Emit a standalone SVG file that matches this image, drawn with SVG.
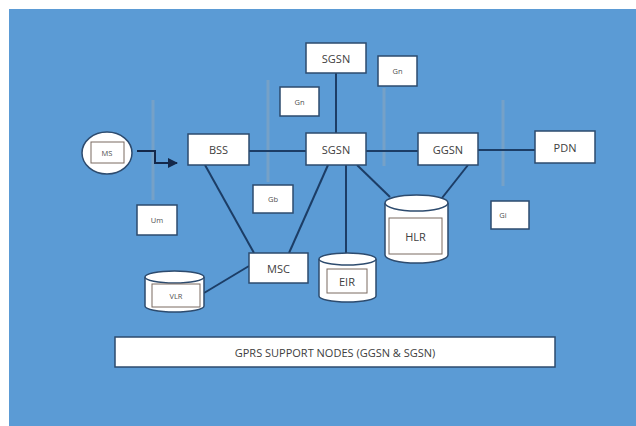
<svg xmlns="http://www.w3.org/2000/svg" width="636" height="426" viewBox="0 0 636 426">
<defs>
<style>
.box{fill:#ffffff;stroke:#2d4b6e;stroke-width:1.5}
.cyl{fill:#ffffff;stroke:#2d4b6e;stroke-width:1.5}
.inner{fill:none;stroke:#7a6a60;stroke-width:1}
.lbl{font-family:"Open Sans","Liberation Sans",sans-serif;font-size:11px;fill:#404040;text-anchor:middle;dominant-baseline:central}
.sm{font-family:"Open Sans","Liberation Sans",sans-serif;font-size:7.5px;fill:#505050;text-anchor:middle;dominant-baseline:central}
.ln{stroke:#1c3d66;stroke-width:2;fill:none}
.faint{stroke:#a8aeb0;stroke-width:3;opacity:0.35}
</style>
<marker id="ah" viewBox="0 0 10 10" refX="9" refY="5" markerWidth="5" markerHeight="5" orient="auto">
<path d="M0,0 L10,5 L0,10 z" fill="#14284a"/>
</marker>
</defs>
<rect x="0" y="0" width="636" height="426" fill="#ffffff"/>
<rect x="9" y="9" width="627" height="417" fill="#5b9bd5"/>
<g id="interfaces">
<line class="faint" x1="153" y1="100" x2="153" y2="200"/>
<line class="faint" x1="268" y1="80" x2="268" y2="182"/>
<line class="faint" x1="384" y1="88" x2="384" y2="166"/>
<line class="faint" x1="503" y1="100" x2="503" y2="186"/>
</g>
<g id="connectors">
<line class="ln" x1="249" y1="151" x2="306" y2="151"/>
<line class="ln" x1="366" y1="151" x2="418" y2="151"/>
<line class="ln" x1="478" y1="150" x2="535" y2="150"/>
<line class="ln" x1="336" y1="73" x2="336" y2="133"/>
<line class="ln" x1="346" y1="165" x2="346" y2="253"/>
<line class="ln" x1="205" y1="165" x2="254" y2="253"/>
<line class="ln" x1="328" y1="165" x2="289" y2="253"/>
<line class="ln" x1="357" y1="165" x2="390" y2="197"/>
<line class="ln" x1="468" y1="165" x2="442" y2="198"/>
<line class="ln" x1="249" y1="266" x2="204" y2="293"/>
<path d="M137,151 H155 V163 H177" stroke="#14284a" stroke-width="2" fill="none" marker-end="url(#ah)"/>
</g>
<g id="ms">
<ellipse cx="107" cy="153" rx="25" ry="21" fill="#ffffff" stroke="#2d4b6e" stroke-width="1.5"/>
<rect class="inner" x="91" y="142" width="33" height="21" stroke="#5a4a40"/>
<text class="sm" x="107" y="153">MS</text>
</g>
<g id="bss">
<rect class="box" x="188" y="134" width="61" height="31"/>
<text class="lbl" x="218.5" y="149.5">BSS</text>
</g>
<g id="sgsn-top">
<rect class="box" x="306" y="43" width="60" height="30"/>
<text class="lbl" x="336" y="58">SGSN</text>
</g>
<g id="sgsn">
<rect class="box" x="306" y="133" width="60" height="32"/>
<text class="lbl" x="336" y="149">SGSN</text>
</g>
<g id="ggsn">
<rect class="box" x="418" y="133" width="60" height="32"/>
<text class="lbl" x="448" y="149">GGSN</text>
</g>
<g id="pdn">
<rect class="box" x="535" y="131" width="60" height="32"/>
<text class="lbl" x="565" y="147">PDN</text>
</g>
<g id="msc">
<rect class="box" x="249" y="253" width="59" height="30"/>
<text class="lbl" x="278.5" y="268">MSC</text>
</g>
<g id="um">
<rect class="box" x="137" y="205" width="40" height="30"/>
<text class="sm" x="157" y="220">Um</text>
</g>
<g id="gn-left">
<rect class="box" x="280" y="87" width="39" height="29"/>
<text class="sm" x="299.5" y="101.5">Gn</text>
</g>
<g id="gn-right">
<rect class="box" x="378" y="56" width="39" height="30"/>
<text class="sm" x="397.5" y="71">Gn</text>
</g>
<g id="gb">
<rect class="box" x="253" y="185" width="40" height="28"/>
<text class="sm" x="273" y="199">Gb</text>
</g>
<g id="gi">
<rect class="box" x="491" y="201" width="38" height="28"/>
<text class="sm" x="503" y="215">Gi</text>
</g>
<g id="hlr">
<path class="cyl" d="M385,203 A31.5,8 0 0 1 448,203 V255 A31.5,8 0 0 1 385,255 Z"/>
<path class="cyl" d="M385,203 A31.5,8 0 0 0 448,203"/>
<rect class="inner" x="389" y="218" width="53" height="36"/>
<text class="lbl" x="415.5" y="236">HLR</text>
</g>
<g id="eir">
<path class="cyl" d="M319,259 A28.5,6 0 0 1 376,259 V296 A28.5,6 0 0 1 319,296 Z"/>
<path class="cyl" d="M319,259 A28.5,6 0 0 0 376,259"/>
<rect class="inner" x="327" y="269" width="40" height="24"/>
<text class="lbl" x="347" y="281">EIR</text>
</g>
<g id="vlr">
<path class="cyl" d="M145,277 A29.5,6 0 0 1 204,277 V306 A29.5,6 0 0 1 145,306 Z"/>
<path class="cyl" d="M145,277 A29.5,6 0 0 0 204,277"/>
<rect class="inner" x="152" y="284" width="48" height="23"/>
<text class="sm" x="176" y="295.5">VLR</text>
</g>
<g id="caption">
<rect class="box" x="115" y="337" width="440" height="30" stroke="#3a5a80"/>
<text class="lbl" x="335" y="352">GPRS SUPPORT NODES (GGSN &amp; SGSN)</text>
</g>
</svg>
